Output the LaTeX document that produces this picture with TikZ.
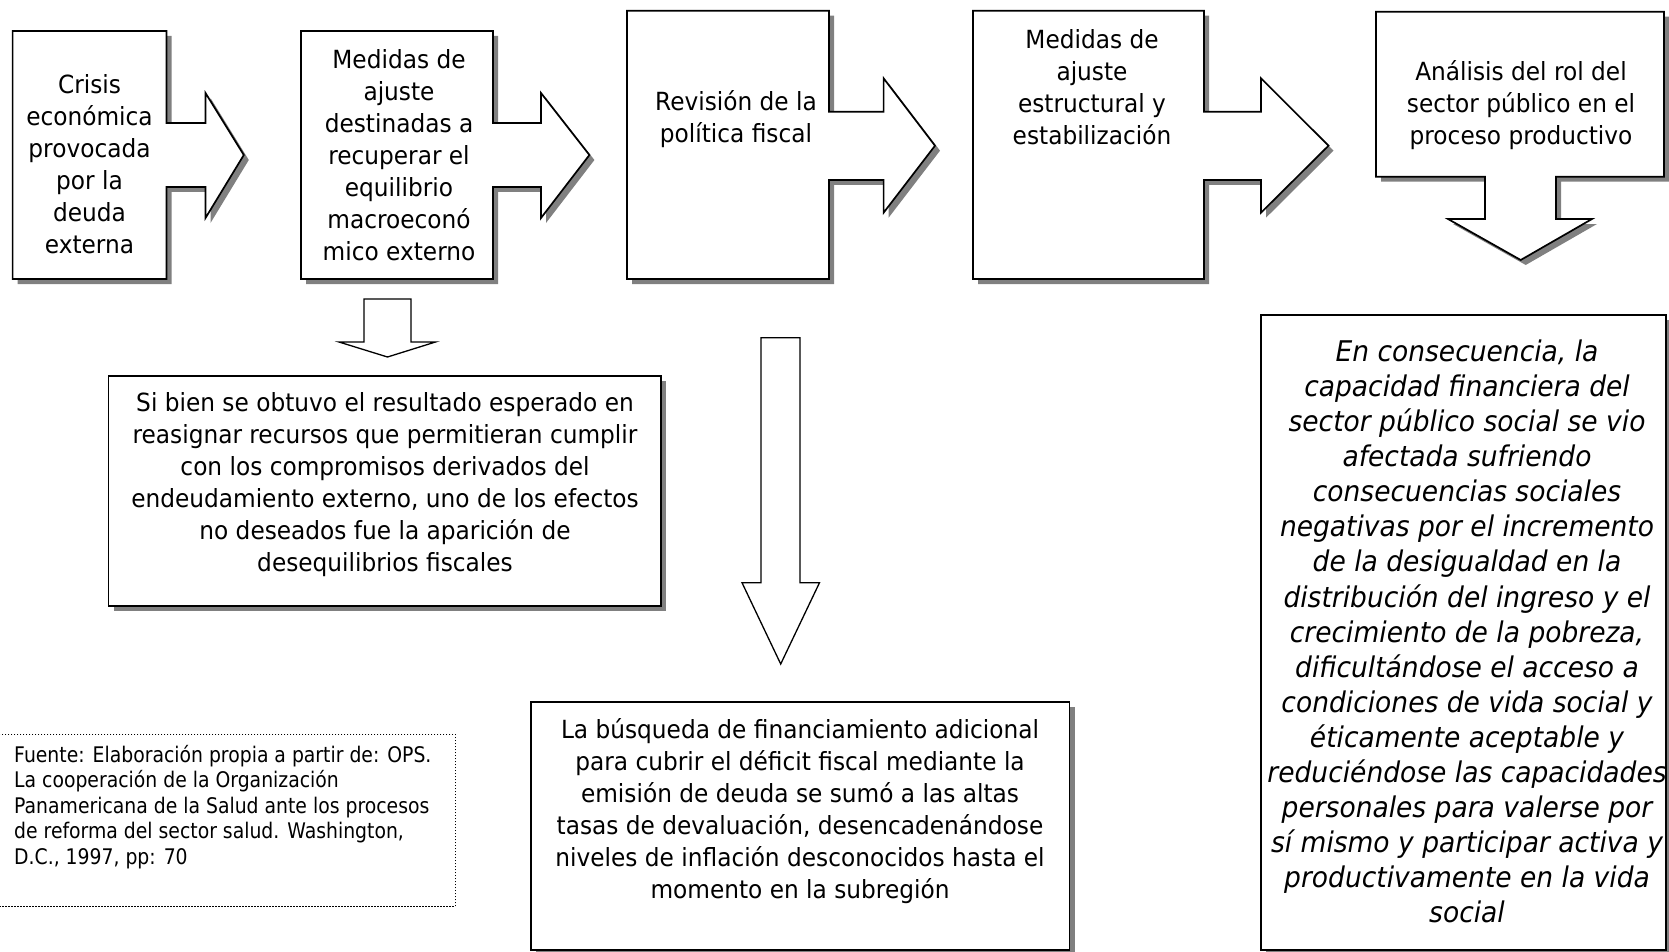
\documentclass[tikz,border=0pt]{standalone}
\usepackage{fontspec}
\newfontfamily\bxfont[FakeStretch=0.93]{DejaVu Sans}
\newfontfamily\fxfont[FakeStretch=0.875]{DejaVu Sans}
\definecolor{shadowgray}{HTML}{808080}
\tikzset{
  shad/.style={preaction={fill=shadowgray, transform canvas={xshift=5pt,yshift=-5pt}}},
  boxshape/.style={draw=black, line width=1.7pt, fill=white, line join=miter},
  blockarrow/.style={draw=black, line width=1.3pt, fill=white, line join=miter},
  txt/.style={align=center, inner sep=0pt, font=\bxfont\fontsize{25}{32}\selectfont},
  ittxt/.style={align=center, inner sep=0pt, font=\bxfont\itshape\fontsize{28.5}{35.1}\selectfont},
  srctxt/.style={align=left, inner sep=0pt, font=\fxfont\fontsize{21.5}{25.6}\selectfont},
  srcbox/.style={draw=black, line width=1pt, dash pattern=on 1.5pt off 1.5pt},
}
\begin{document}
\begin{tikzpicture}[x=1pt,y=-1pt]
\useasboundingbox (0,0) rectangle (1669,952);

% top row callouts
\draw[boxshape,shad] (12.6,31) -- (166.5,31) -- (166.5,123) -- (205.5,123) -- (205.5,93) -- (243.8,155) -- (205.5,218) -- (205.5,187) -- (166.5,187) -- (166.5,279) -- (12.6,279) -- cycle;
\draw[boxshape,shad] (301,31) -- (493,31) -- (493,123) -- (541,123) -- (541,93) -- (589.4,155) -- (541,218) -- (541,187) -- (493,187) -- (493,279) -- (301,279) -- cycle;
\draw[boxshape,shad] (627,10.7) -- (829,10.7) -- (829,111.7) -- (883.6,111.7) -- (883.6,78.3) -- (935,145.7) -- (883.6,212.7) -- (883.6,180) -- (829,180) -- (829,279) -- (627,279) -- cycle;
\draw[boxshape,shad] (973,10.7) -- (1204,10.7) -- (1204,111.7) -- (1261,111.7) -- (1261,78.3) -- (1328.5,145.7) -- (1261,212.7) -- (1261,180) -- (1204,180) -- (1204,279) -- (973,279) -- cycle;
\draw[boxshape,shad] (1376,11.7) -- (1664,11.7) -- (1664,176.7) -- (1556,176.7) -- (1556,219) -- (1592,219) -- (1520.7,260) -- (1448,219) -- (1485,219) -- (1485,176.7) -- (1376,176.7) -- cycle;

\node[txt] (crisis) at (89.5,164) {Crisis\\económica\\provocada\\por la\\deuda\\externa};
\node[txt] (medidas1) at (399,155.5) {Medidas de\\ajuste\\destinadas a\\recuperar el\\equilibrio\\macroeconó\\mico externo};
\node[txt] (revision) at (736,119) {Revisión de la\\política fiscal};
\node[txt] (medidas2) at (1092,86.7) {Medidas de\\ajuste\\estructural y\\estabilización};
\node[txt] (analisis) at (1521,105.4) {Análisis del rol del\\sector público en el\\proceso productivo};

% standalone block arrows
\draw[blockarrow] (364,299) -- (411,299) -- (411,342) -- (435.5,342) -- (387.5,357) -- (339,342) -- (364,342) -- cycle;
\draw[blockarrow] (761,337.7) -- (800,337.7) -- (800,582.7) -- (819.5,582.7) -- (780.7,664) -- (742,582.7) -- (761,582.7) -- cycle;

% lower boxes
\draw[boxshape,shad] (108.5,376) rectangle (661,606);
\node[txt] (sibien) at (385,485) {Si bien se obtuvo el resultado esperado en\\reasignar recursos que permitieran cumplir\\con los compromisos derivados del\\endeudamiento externo, uno de los efectos\\no deseados fue la aparición de\\desequilibrios fiscales};

\draw[boxshape,shad] (531,702) rectangle (1069.5,950);
\node[txt] (busqueda) at (800,811) {La búsqueda de financiamiento adicional\\para cubrir el déficit fiscal mediante la\\emisión de deuda se sumó a las altas\\tasas de devaluación, desencadenándose\\niveles de inflación desconocidos hasta el\\momento en la subregión};

\draw[boxshape,shad] (1261,315) rectangle (1666,950);
\node[ittxt] (consecuencia) at (1467,631.5) {En consecuencia, la\\capacidad financiera del\\sector público social se vio\\afectada sufriendo\\consecuencias sociales\\negativas por el incremento\\de la desigualdad en la\\distribución del ingreso y el\\crecimiento de la pobreza,\\dificultándose el acceso a\\condiciones de vida social y\\éticamente aceptable y\\reduciéndose las capacidades\\personales para valerse por\\sí mismo y participar activa y\\productivamente en la vida\\social};

\draw[srcbox] (-5,734) rectangle (455,906.7);
\node[srctxt,anchor=west] (fuente) at (14,807) {Fuente: Elaboración propia a partir de: OPS.\\La cooperación de la Organización\\Panamericana de la Salud ante los procesos\\de reforma del sector salud. Washington,\\D.C., 1997, pp: 70};
\end{tikzpicture}
\end{document}
